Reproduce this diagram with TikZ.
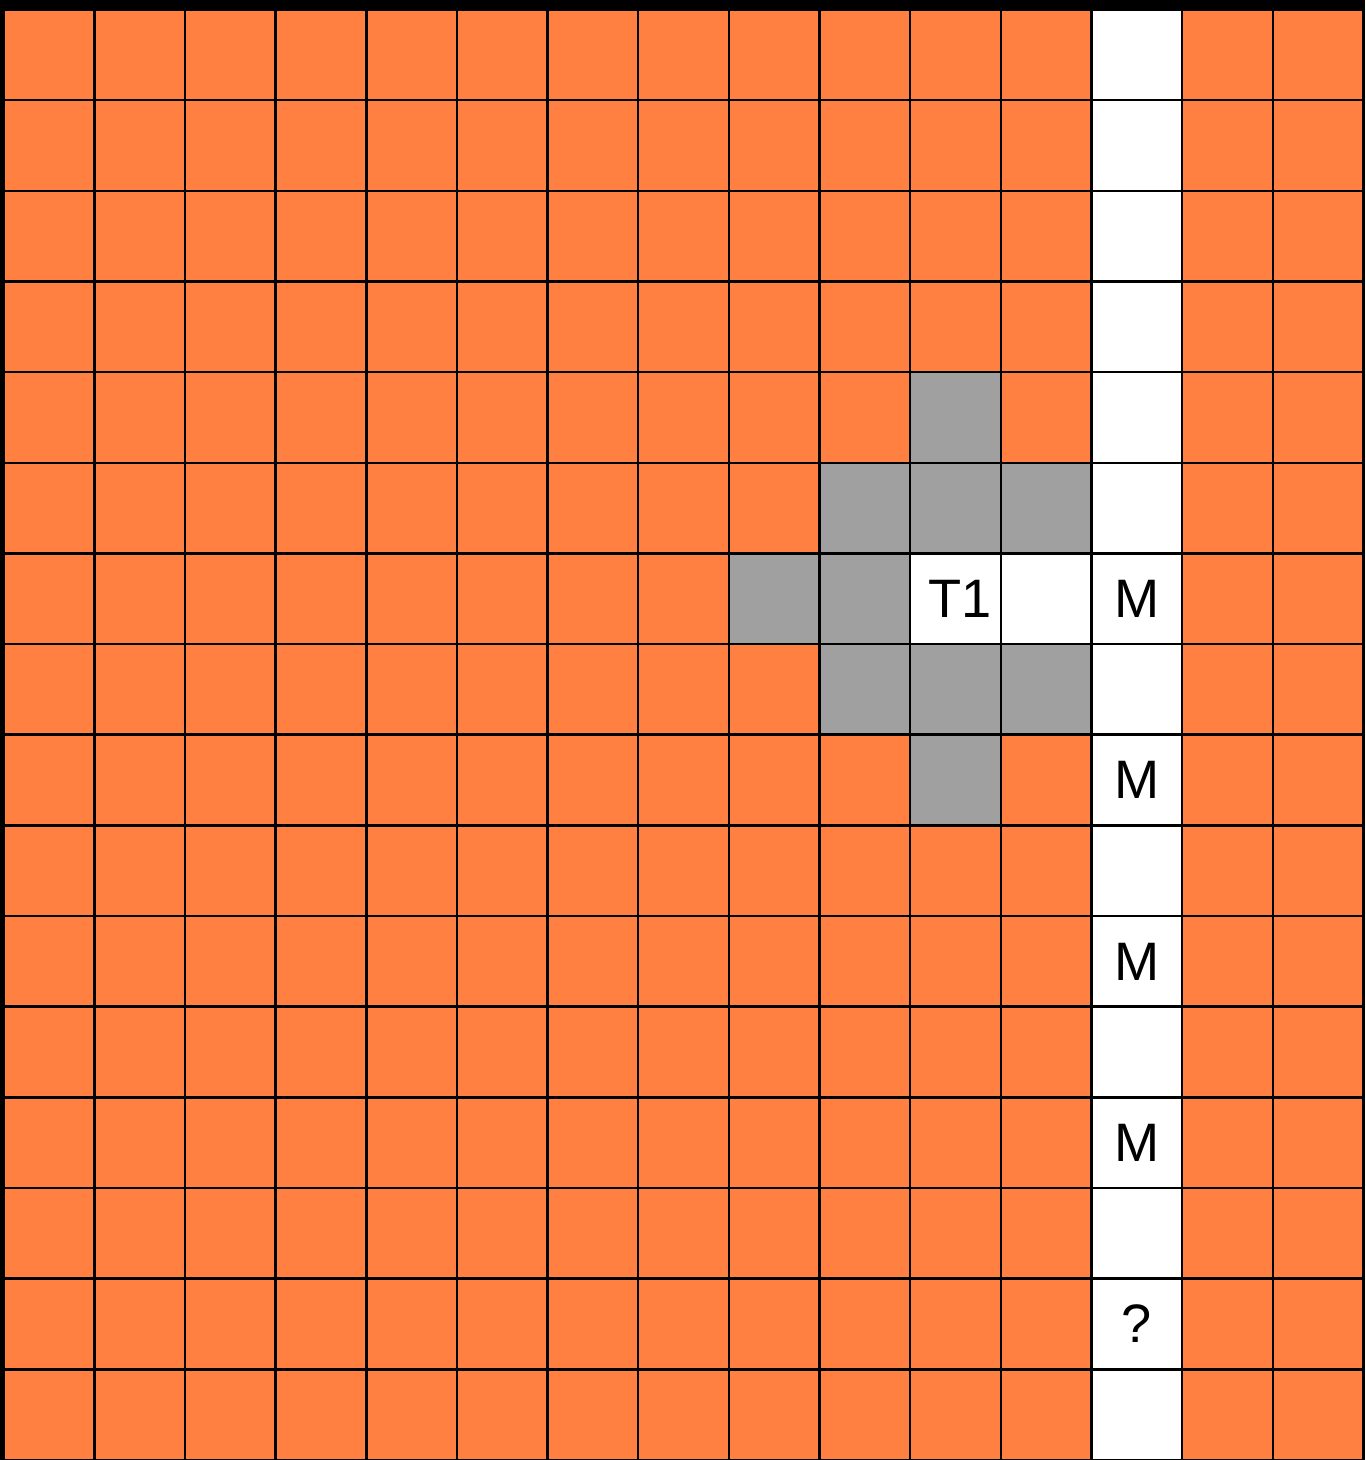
\documentclass[tikz,border=0pt]{standalone}
\usepackage{fontspec}
\setsansfont{Liberation Sans}
\usepackage{tikz}
\definecolor{boardorange}{RGB}{255,128,64}
\definecolor{wallgray}{RGB}{160,160,160}
\tikzset{
  board cell/.style={
    draw=black,
    line width=0.8pt,
    fill=boardorange
  },
  open cell/.style={
    draw=black,
    line width=0.8pt,
    fill=white
  },
  blocked cell/.style={
    draw=black,
    line width=0.8pt,
    fill=wallgray
  },
  cell label/.style={
    font=\sffamily\fontsize{17}{20}\selectfont,
    text=black,
    inner sep=0pt
  }
}

\begin{document}
\begin{tikzpicture}

    % ---------- background ----------
    \fill[black] (-0.04,-16.00) rectangle (15.02,0.105);
    \useasboundingbox (-0.04,-16.00) rectangle (15.02,0.105);

    % ---------- board ----------
    \foreach \c in {0,...,14}{
      \foreach \r in {0,...,15}{
        \path[board cell] (\c,-\r) rectangle ++(1,-1);
      }
    }

    % free column
    \foreach \r in {0,...,15}{
      \path[open cell] (12,-\r) rectangle ++(1,-1);
    }

    % ---------- blocked cells around T1 ----------
    \foreach \c/\r in {
      10/4,
      9/5, 10/5, 11/5,
      8/6, 9/6,
      9/7, 10/7, 11/7,
      10/8
    }{
      \path[blocked cell] (\c,-\r) rectangle ++(1,-1);
    }

    % T1 and the cell beside it
    \foreach \c/\r in {10/6, 11/6}{
      \path[open cell] (\c,-\r) rectangle ++(1,-1);
    }

    % ---------- labels ----------
    \node[cell label] (tone) at (10.55,-6.5) {T1};

    \foreach \r/\name in {6/mone, 8/mtwo, 10/mthree, 12/mfour}{
      \node[cell label] (\name) at (12.5,-\r-0.5) {M};
    }

    \node[cell label] (query) at (12.5,-14.5) {?};

  \end{tikzpicture}
\end{document}
